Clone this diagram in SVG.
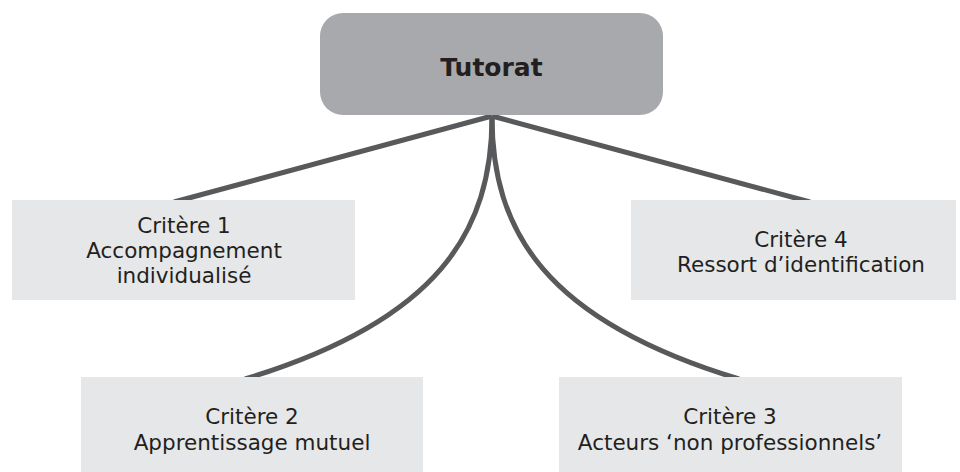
<svg xmlns="http://www.w3.org/2000/svg" width="960" height="472" viewBox="0 0 960 472">
<style>
.conn{fill:none;stroke:#58595b;stroke-width:5;stroke-linecap:butt}
.box{fill:#e6e7e8}
.lbl{font-family:"DejaVu Sans",Verdana,sans-serif;font-size:21.5px;fill:#231f20;text-anchor:middle}
.title{font-family:"DejaVu Sans",Verdana,sans-serif;font-size:25px;font-weight:bold;fill:#231f20;text-anchor:middle}
</style>
<rect width="960" height="472" fill="#ffffff"/>
<g id="connectors">
<line class="conn" x1="492" y1="116" x2="174" y2="202"/>
<line class="conn" x1="492" y1="116" x2="810" y2="202"/>
<path class="conn" d="M492,116 C492,230 440,320 245,379"/>
<path class="conn" d="M492,116 C492,230 544,320 739,379"/>
</g>
<g id="tutorat">
<rect x="320" y="13" width="343" height="102" rx="23" fill="#a7a9ac"/>
<text class="title" x="491.5" y="76">Tutorat</text>
</g>
<g id="critere1">
<rect class="box" x="12" y="200" width="343" height="100"/>
<text class="lbl" x="184" y="233">Critère 1</text>
<text class="lbl" x="184" y="258">Accompagnement</text>
<text class="lbl" x="184" y="283">individualisé</text>
</g>
<g id="critere4">
<rect class="box" x="631" y="200" width="325" height="100"/>
<text class="lbl" x="801" y="247">Critère 4</text>
<text class="lbl" x="801" y="272">Ressort d’identification</text>
</g>
<g id="critere2">
<rect class="box" x="81" y="377" width="342" height="95"/>
<text class="lbl" x="252" y="424">Critère 2</text>
<text class="lbl" x="252" y="450">Apprentissage mutuel</text>
</g>
<g id="critere3">
<rect class="box" x="559" y="377" width="343" height="95"/>
<text class="lbl" x="730" y="424">Critère 3</text>
<text class="lbl" x="730" y="450">Acteurs ‘non professionnels’</text>
</g>
</svg>
